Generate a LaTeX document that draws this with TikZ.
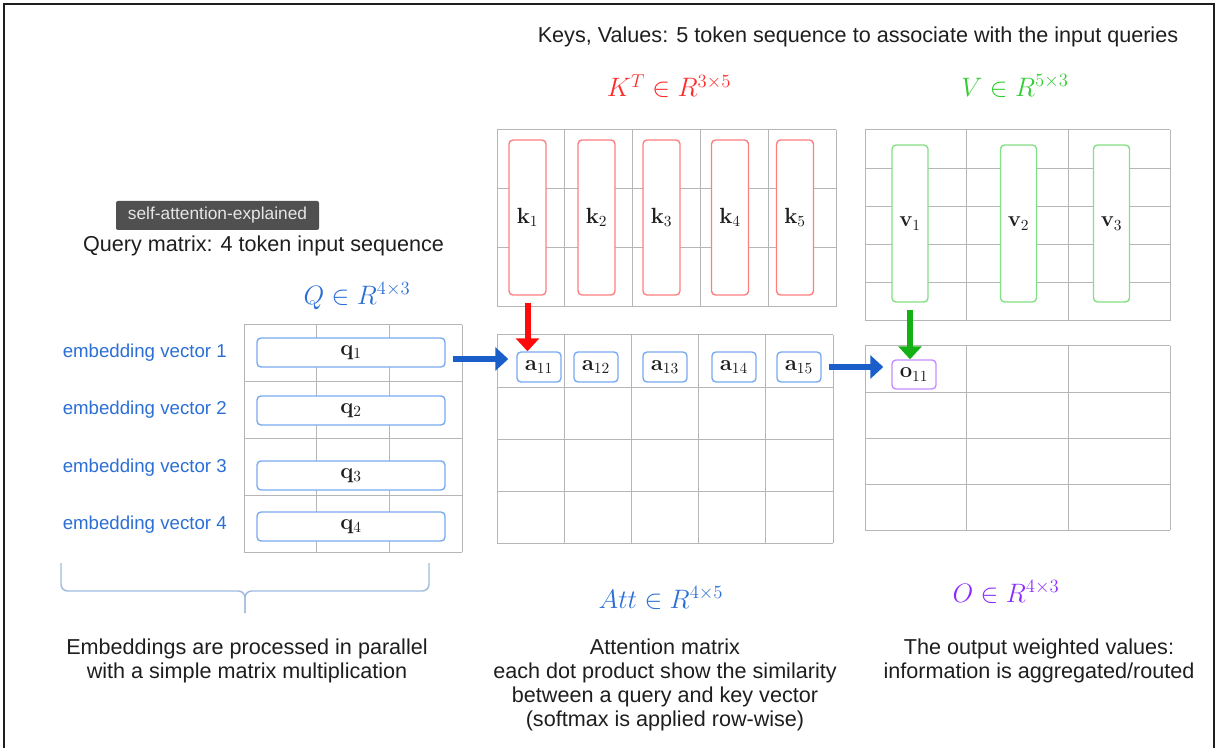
\documentclass[tikz,border=0pt]{standalone}
\usepackage{fix-cm}
\usepackage[no-math]{fontspec}
\setmainfont{Liberation Sans}
\usepackage{tikz}
\usetikzlibrary{arrows.meta,positioning}

\newdimen\pxu \pxu=0.75pt

\definecolor{gridgray}{HTML}{B6B6B6}
\definecolor{textblack}{HTML}{1E1E1E}
\definecolor{labelblue}{HTML}{2B6FD6}
\definecolor{boxblue}{HTML}{78AAF0}
\definecolor{boxred}{HTML}{FF7F7F}
\definecolor{boxgreen}{HTML}{84E084}
\definecolor{boxpurple}{HTML}{C68CFF}
\definecolor{arrowblue}{HTML}{1A5FC9}
\definecolor{arrowred}{HTML}{FF0A0A}
\definecolor{arrowgreen}{HTML}{14B014}
\definecolor{titlered}{HTML}{FF2A2A}
\definecolor{titlegreen}{HTML}{33CC33}
\definecolor{titlepurple}{HTML}{8C2CFF}
\definecolor{tagfill}{HTML}{505050}
\definecolor{tagtext}{HTML}{E6E6E6}
\definecolor{bracecol}{HTML}{A0BCE0}

\tikzset{
  gridline/.style={draw=gridgray, line width=0.75pt},
  vecbox/.style={draw, fill=white, rounded corners=3pt, line width=1.05pt,
    inner sep=0pt, text=textblack, font=\fontsize{16.5}{18}\selectfont},
  qrow/.style={vecbox, draw=boxblue, minimum width=141pt, minimum height=21.75pt},
  kcol/.style={vecbox, draw=boxred, minimum width=27.75pt, minimum height=116.25pt},
  vcol/.style={vecbox, draw=boxgreen, minimum width=27pt, minimum height=117.75pt},
  acell/.style={vecbox, draw=boxblue, minimum width=33pt, minimum height=22.5pt},
  ocell/.style={vecbox, draw=boxpurple, minimum width=33pt, minimum height=21.75pt},
  fatarrow/.style={line width=4.5pt, -{Triangle[length=9.75pt, width=17.25pt]}},
  notetext/.style={font=\fontsize{16.2}{18}\selectfont, text=textblack, inner sep=0pt},
  embtext/.style={font=\fontsize{14}{16}\selectfont, text=labelblue, inner sep=0pt, anchor=east},
  mtitle/.style={font=\fontsize{20}{24}\selectfont, inner sep=0pt},
  tagbox/.style={fill=tagfill, text=tagtext, rounded corners=1.5pt, inner sep=0pt,
    minimum width=152.25pt, minimum height=21.75pt, font=\fontsize{13}{15}\selectfont},
  bracket/.style={draw=bracecol, line width=1.1pt, rounded corners=5pt},
}

\begin{document}
\begin{tikzpicture}[x=1\pxu, y=-1\pxu]
    \useasboundingbox (0,0) rectangle (1220,748);
    \draw[line width=1.5pt, textblack] (4,748) -- (4,4) -- (1214,4) -- (1214,748);

    % grids: Q, K^T, Att, V, O
    \foreach \c in {0,...,3} {\draw[gridline] (244+72.67*\c,325) -- (244+72.67*\c,552);}
    \foreach \r in {0,...,4} {\draw[gridline] (244,325+56.75*\r) -- (462,325+56.75*\r);}
    \foreach \c in {0,...,5} {\draw[gridline] (497+67.8*\c,130) -- (497+67.8*\c,307);}
    \foreach \r in {0,...,3} {\draw[gridline] (497,130+59*\r) -- (836,130+59*\r);}
    \foreach \c in {0,...,5} {\draw[gridline] (497+67.2*\c,335) -- (497+67.2*\c,543);}
    \foreach \r in {0,...,4} {\draw[gridline] (497,335+52*\r) -- (833,335+52*\r);}
    \foreach \c in {0,...,3} {\draw[gridline] (865+101.67*\c,130) -- (865+101.67*\c,321);}
    \foreach \r in {0,...,5} {\draw[gridline] (865,130+38.2*\r) -- (1170,130+38.2*\r);}
    \foreach \c in {0,...,3} {\draw[gridline] (865+101.67*\c,346) -- (865+101.67*\c,530);}
    \foreach \r in {0,...,4} {\draw[gridline] (865,346+46*\r) -- (1170,346+46*\r);}

    % vectors
    \foreach \i/\y in {1/352.5,2/410.5,3/475.5,4/526.5}
      {\node[qrow] (q\i) at (351,\y) {$\mathbf{q}_\i$};}
    \foreach \i/\x in {1/527.5,2/596.5,3/661.5,4/730,5/795}
      {\node[kcol] (k\i) at (\x,217.5) {$\mathbf{k}_\i$};}
    \foreach \i/\x in {1/539,2/596,3/665,4/734,5/799}
      {\node[acell] (a1\i) at (\x,367) {$\mathbf{a}_{1\i}$};}
    \foreach \i/\x in {1/910,2/1018.5,3/1111.5}
      {\node[vcol] (v\i) at (\x,223.5) {$\mathbf{v}_\i$};}
    \node[ocell] (o11) at (914,374.5) {$\mathbf{o}_{11}$};

    % arrows
    \draw[fatarrow, arrowblue] ([shift={(7,6.5)}]q1.east) -- ([shift={(-8,6.5)}]q1.east -| a11.west);
    \draw[fatarrow, arrowred] ([shift={(0,7)}]k1.south) -- (a11.north -| k1.south);
    \draw[fatarrow, arrowblue] ([shift={(7,0)}]a15.east) -- ([shift={(-8,0)}]a15.east -| o11.west);
    \draw[fatarrow, arrowgreen] ([shift={(0,7)}]v1.south) -- (o11.north -| v1.south);

    % labels
    \foreach \i/\y in {1/353,2/410,3/468,4/525}
      {\node[embtext] (emb\i) at (227,\y) {embedding vector \i};}
    \node[tagbox] (tag) at (217.5,215.5) {self-attention-explained};
    \node[notetext] (querytext) at (263.5,246) {Query matrix: 4 token input sequence};
    \node[notetext] (keystext) at (858,37) {Keys, Values: 5 token sequence to associate with the input queries};
    \node[mtitle, labelblue] (qtitle) at (357,296) {$Q \in R^{4\times 3}$};
    \node[mtitle, titlered] (ktitle) at (669,86) {$K^T \in R^{3\times 5}$};
    \node[mtitle, titlegreen] (vtitle) at (1015,86) {$V \in R^{5\times 3}$};
    \node[mtitle, labelblue] (atttitle) at (661,598) {$Att \in R^{4\times 5}$};
    \node[mtitle, titlepurple] (otitle) at (1006,592) {$O \in R^{4\times 3}$};

    % brace under Q
    \draw[bracket] (61,563) -- (61,591) -- (245,591) -- (245,613);
    \draw[bracket] (429,563) -- (429,591) -- (245,591) -- (245,613);

    \node[notetext, align=center, anchor=north] (embnote) at (247,639)
      {Embeddings are processed in parallel\\with a simple matrix multiplication};
    \node[notetext, align=center, anchor=north] (attnote) at (665,639)
      {Attention matrix\\each dot product show the similarity\\between a query and key vector\\(softmax is applied row-wise)};
    \node[notetext, align=center, anchor=north] (outnote) at (1039,639)
      {The output weighted values:\\information is aggregated/routed};
\end{tikzpicture}
\end{document}
